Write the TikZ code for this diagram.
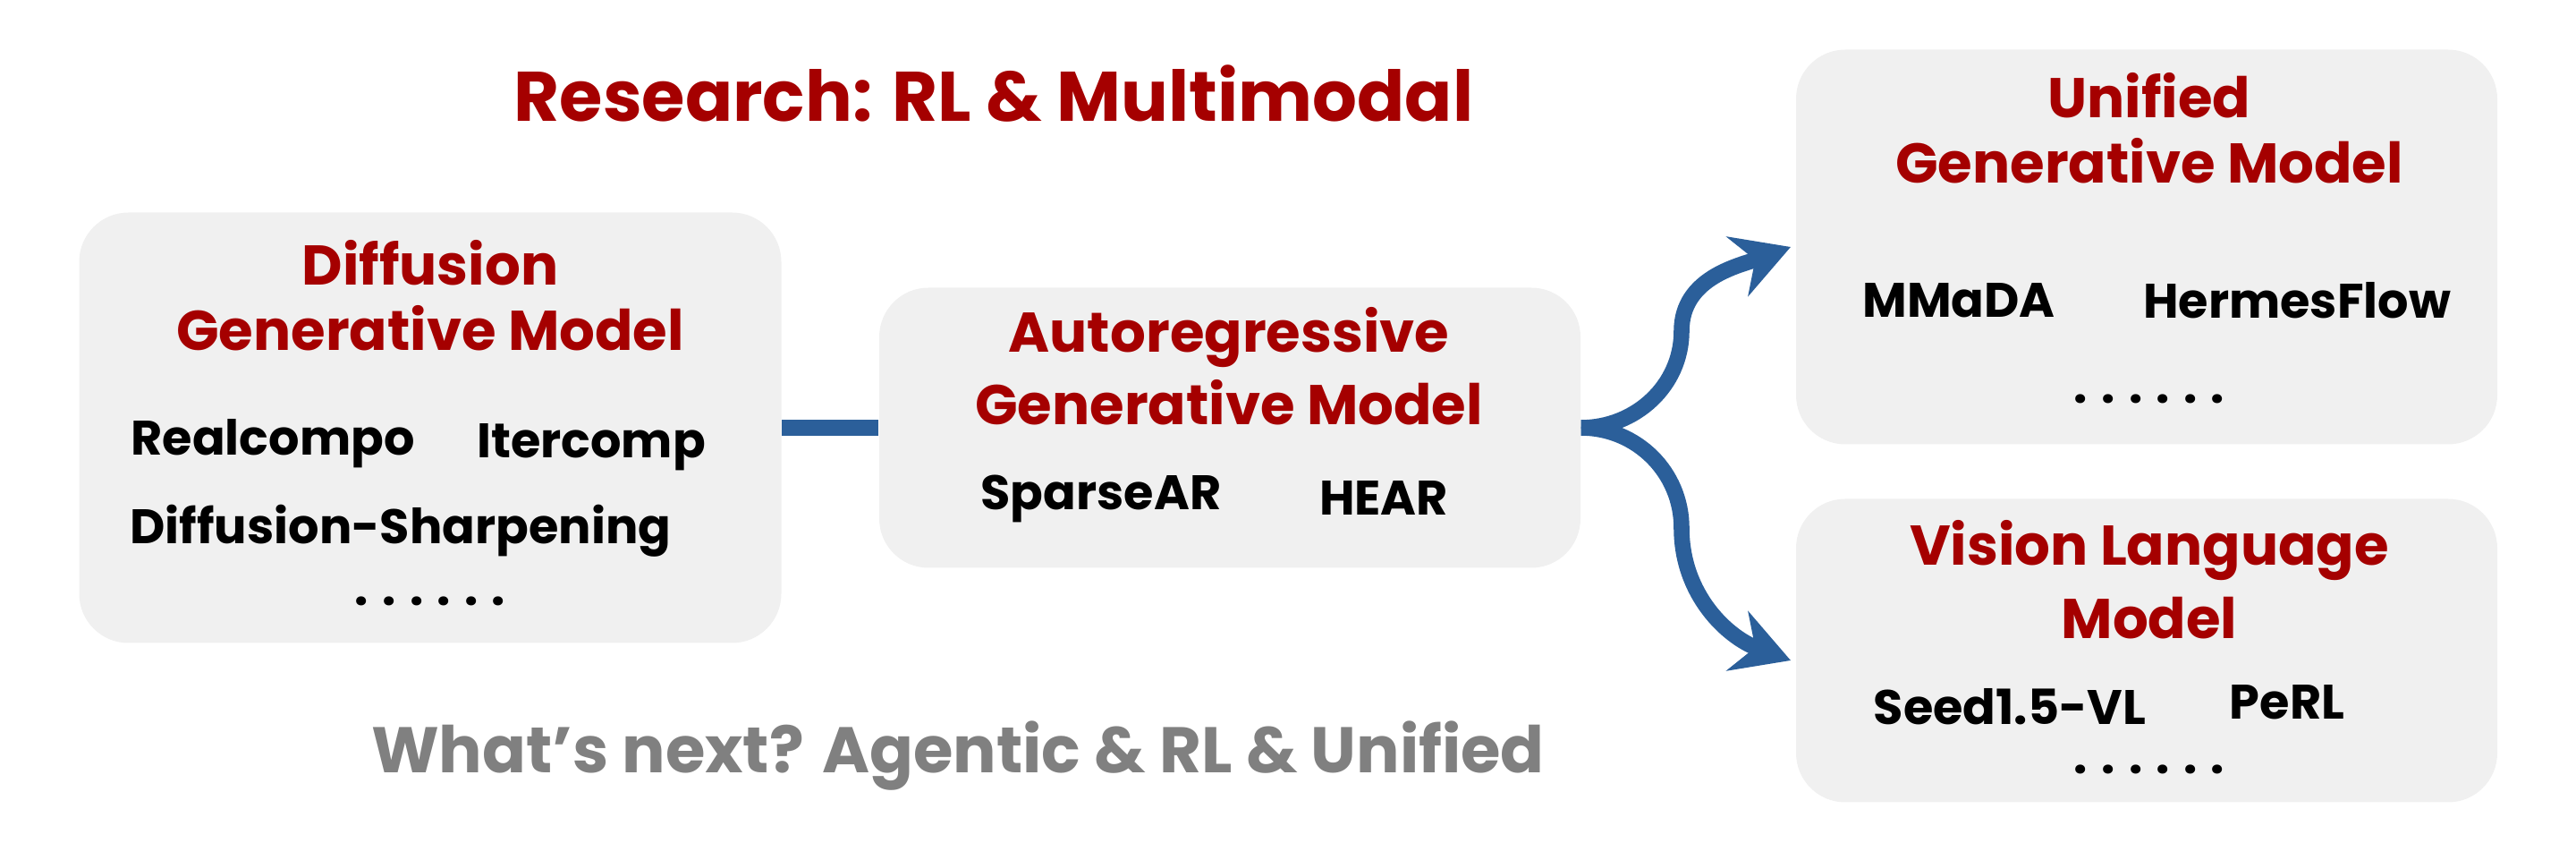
\documentclass[tikz,border=0pt]{standalone}
\usepackage{fontspec}
\setmainfont{Poppins}
\usetikzlibrary{arrows.meta}
\definecolor{darkred}{HTML}{A50000}
\definecolor{boxgray}{HTML}{F0F0F0}
\definecolor{linkblue}{HTML}{2B5F9A}
\definecolor{nextgray}{HTML}{808080}
\begin{document}
\begin{tikzpicture}
	\tikzstyle{panel}=[shape=rectangle,rounded corners=0.55cm,fill=boxgray,draw=none]
	\tikzstyle{head}=[text=darkred,font=\fontsize{17.8}{20}\selectfont\bfseries]
	\tikzstyle{item}=[text=black,font=\fontsize{15.4}{18}\selectfont\bfseries]
	\tikzstyle{link}=[draw=linkblue,line width=5pt]

	\useasboundingbox (0,0) rectangle (28.8,-9.42);

	%%% boxes
	\node[panel, minimum width=7.85cm, minimum height=4.81cm] (diff) at (4.81,-4.78) {};
	\node[panel, minimum width=7.84cm, minimum height=3.13cm] (ar) at (13.75,-4.78) {};
	\node[panel, minimum width=7.84cm, minimum height=4.41cm] (uni) at (24.0,-2.76) {};
	\node[panel, minimum width=7.84cm, minimum height=3.39cm] (vlm) at (24.0,-7.27) {};

	%%% texts
	\node[text=darkred, font=\fontsize{22.3}{26}\selectfont\bfseries] (title) at (11.11,-1.05) {Research: RL \& Multimodal};
	\node[text=nextgray, font=\fontsize{20.5}{24}\selectfont\bfseries] (next) at (10.71,-8.45) {What’s next? Agentic \& RL \& Unified};

	\node[head] (diffa) at (4.81,-2.94) {Diffusion};
	\node[head] (diffb) at (4.81,-3.67) {Generative Model};
	\node[item] (realc) at (3.05,-4.96) {Realcompo};
	\node[item] (iterc) at (6.61,-5.0) {Itercomp};
	\node[item] (sharp) at (4.48,-5.93) {Diffusion-Sharpening};
	\node[item] (diffdots) at (4.81,-6.72) {. . . . . .};

	\node[head] (ara) at (13.74,-3.77) {Autoregressive};
	\node[head] (arb) at (13.74,-4.50) {Generative Model};
	\node[item] (sparse) at (12.31,-5.57) {SparseAR};
	\node[item] (hear) at (15.47,-5.57) {HEAR};

	\node[head] (unia) at (24.03,-1.07) {Unified};
	\node[head] (unib) at (24.03,-1.80) {Generative Model};
	\node[item] (mmada) at (21.9,-3.36) {MMaDA};
	\node[item] (hermes) at (25.68,-3.36) {HermesFlow};
	\node[item] (unidots) at (24.03,-4.46) {. . . . . .};

	\node[head] (vlma) at (24.03,-6.15) {Vision Language};
	\node[head] (vlmb) at (24.03,-6.91) {Model};
	\node[item] (seed) at (22.47,-7.9) {Seed1.5-VL};
	\node[item] (perl) at (25.57,-7.85) {PeRL};
	\node[item] (vlmdots) at (24.03,-8.6) {. . . . . .};

	%%% connectors
	\coordinate (tipup) at (20.02,-2.76);
	\coordinate (tipdown) at (20.02,-7.38);
	\draw[link] (diff.east) -- (ar.west);
	\draw[link,-{Stealth[length=18pt,width=20pt,inset=6pt]}] (ar.east) to[out=0,in=-90] (18.8,-3.7) to[out=90,in=200] (tipup);
	\draw[link,-{Stealth[length=18pt,width=20pt,inset=6pt]}] (ar.east) to[out=0,in=90] (18.8,-5.9) to[out=-90,in=160] (tipdown);
\end{tikzpicture}
\end{document}
